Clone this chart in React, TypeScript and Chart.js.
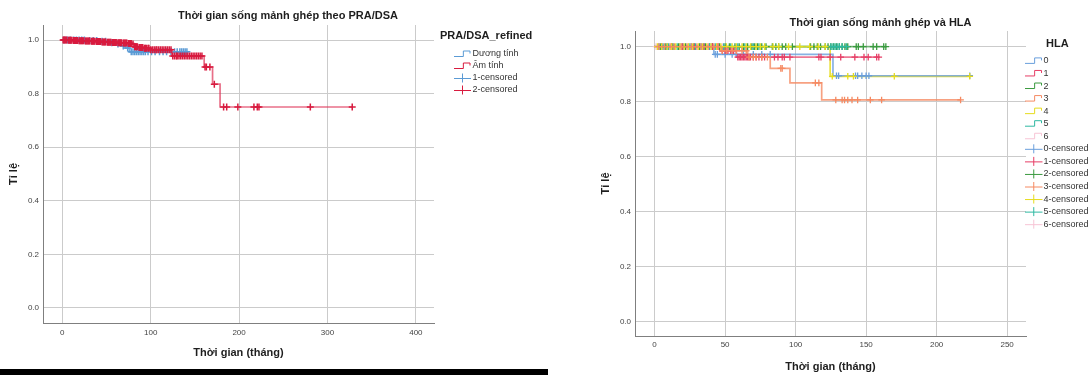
import React, { useEffect, useRef } from "react";
import { Chart, registerables } from "chart.js";

Chart.register(...registerables);

const FONT = '"Liberation Sans", Arial, sans-serif';

// ---------------- Left chart data ----------------
const leftTitle = "Thời gian sống mảnh ghép theo PRA/DSA";
const leftLegendTitle = "PRA/DSA_refined";
const leftGroupLabels = ["Dương tính", "Âm tính"];
const leftCensorLabels = ["1-censored", "2-censored"];
const leftXTicks = [0, 100, 200, 300, 400];
const yTicks = [0, 0.2, 0.4, 0.6, 0.8, 1.0];
const xAxisTitle = "Thời gian (tháng)";
const yAxisTitle = "Tỉ lệ";

// Dương tính (positive)
const posTimes = [0, 28, 42, 52, 60, 66, 71, 76];
const posSurv = [1, 0.998, 0.995, 0.99, 0.985, 0.978, 0.97, 0.956];
const posEnd = 141;
const posCensor = [2, 6, 9, 13, 16, 19, 22, 25, 31, 35, 39, 45, 49, 56, 63, 69, 74, 78, 80, 82, 84, 86, 88, 90, 92, 94, 97, 101, 105, 110, 114, 118, 123, 127, 130, 133, 135, 137, 139, 141];

// Âm tính (negative)
const negTimes = [0, 6, 12, 18, 25, 32, 38, 44, 50, 56, 62, 68, 74, 79, 81, 86, 92, 99, 124, 160.5, 170, 178.5];
const negSurv = [1, 0.999, 0.998, 0.997, 0.996, 0.995, 0.994, 0.993, 0.992, 0.991, 0.99, 0.989, 0.987, 0.985, 0.975, 0.972, 0.969, 0.964, 0.94, 0.899, 0.835, 0.75];
const negEnd = 328;
const negCensor = [1, 2, 3, 4, 5, 7, 8, 9, 10, 11, 13, 14, 15, 16, 17, 19, 20, 21, 22, 23, 24, 26, 27, 28, 29, 30, 31, 33, 34, 35, 36, 37, 39, 40, 41, 42, 43, 45, 46, 47, 48, 49, 51, 52, 53, 54, 55, 57, 58, 59, 60, 61, 63, 64, 65, 66, 67, 69, 70, 71, 72, 73, 75, 76, 77, 78, 80, 82, 83, 84, 85, 87, 88, 89, 90, 91, 93, 94, 95, 97, 98, 100, 102, 104, 106, 107, 109, 111, 113, 115, 117, 119, 121, 123, 125, 127, 129, 130, 132, 134, 136, 138, 140, 142, 144, 146, 148, 150, 152, 154, 156, 158, 161.5, 163, 167, 172, 182.5, 186, 198.6, 216.8, 220.6, 222.5, 280.6, 328];

// ---------------- Right chart data ----------------
const rightTitle = "Thời gian sống mảnh ghép và HLA";
const rightLegendTitle = "HLA";
const hlaLabels = ["0", "1", "2", "3", "4", "5", "6"];
const hlaCensorLabels = ["0-censored", "1-censored", "2-censored", "3-censored", "4-censored", "5-censored", "6-censored"];
const rightXTicks = [0, 50, 100, 150, 200, 250];

const g0Times = [0, 42, 126.5];
const g0Surv = [1, 0.972, 0.894];
const g0End = 223.5;
const g0Censor = [3, 9, 18, 26, 33, 39, 43, 44.5, 50, 55, 58, 63, 70, 76, 82, 129, 130.5, 142.5, 144, 147, 150, 152, 223.5];

const g1Times = [0, 47, 58];
const g1Surv = [1, 0.985, 0.962];
const g1End = 159;
const g1Censor = [5, 12, 20, 28, 35, 41, 45, 48, 50, 52, 54, 56, 59, 60, 61, 62, 63, 64, 65, 66, 67, 68, 70, 72, 74, 76, 78, 85, 87.5, 90.5, 92, 96, 116.5, 118, 124.5, 132, 142, 148.5, 151.5, 157.5, 159];

const g2Times = [0];
const g2Surv = [1];
const g2End = 164;
const g2Censor = [4, 8, 13, 17, 22, 28, 32, 36, 41, 46, 50, 53, 57, 60, 63, 66, 69, 71, 73, 76, 79, 83.5, 86, 88, 90.5, 93, 97.7, 110.6, 113, 115.4, 117.7, 121, 123, 125, 127, 129, 131, 133, 135, 137, 143, 144.5, 148, 155, 157.5, 162.5, 164];

const g3Times = [0, 47, 66, 82, 96, 118.5];
const g3Surv = [1, 0.985, 0.962, 0.921, 0.868, 0.806];
const g3End = 217;
const g3Censor = [3, 7, 11, 14, 19, 23, 26, 30, 33, 38, 42, 45, 48, 51, 55, 58, 62, 65, 67, 70, 72, 76, 80, 89.5, 90.5, 114, 116.5, 128.5, 133, 134.7, 137, 140, 144, 153, 161, 217];

const g4Times = [0, 124.5];
const g4Surv = [1, 0.892];
const g4End = 223.5;
const g4Censor = [2, 5, 9, 12, 15, 18, 21, 24, 27, 31, 34, 37, 40, 44, 47, 51, 55, 58, 62, 65, 68, 72, 75, 78, 84, 88, 95, 103, 110, 116, 121, 126, 137, 141, 170, 223.5];

const g5Times = [0];
const g5Surv = [1];
const g5End = 136;
const g5Censor = [6, 10, 16, 20, 25, 29, 35, 39, 43, 49, 54, 59, 64, 70, 74, 125, 126.5, 128, 129.5, 131, 133, 136];

const g6Times = [0];
const g6Surv = [1];
const g6End = 48;
const g6Censor = [1, 7.5, 13, 19, 24, 32, 40, 44, 48];

// ---------------- styles ----------------
const leftColors = { pos: "#5b9bd5", neg: "#d81b3f" };
const leftLineColors = { pos: "rgba(91,155,213,0.85)", neg: "rgba(222,50,85,0.7)" };
const hlaColors = ["#6a9fdc", "#e63e66", "#3a9a3f", "#f58a62", "#e6dc1e", "#2fb9a2", "#f7c4d5"];
const hlaLineColors = ["rgba(106,159,220,0.8)", "rgba(230,62,102,0.7)", "rgba(58,154,63,0.6)", "rgba(245,138,98,0.8)", "rgba(230,220,30,0.85)", "rgba(47,185,162,0.7)", "rgba(247,196,213,0.9)"];

type Group = { times: number[]; surv: number[]; end: number; censor: number[] };

function survAt(g: Group, t: number): number {
  let s = g.surv[0];
  for (let i = 0; i < g.times.length; i++) {
    if (g.times[i] <= t) s = g.surv[i];
  }
  return s;
}

function stepData(g: Group) {
  const pts = g.times.map((t, i) => ({ x: t, y: g.surv[i] }));
  pts.push({ x: g.end, y: g.surv[g.surv.length - 1] });
  return pts;
}

function censorData(g: Group) {
  return g.censor.map((t) => ({ x: t, y: survAt(g, t) }));
}

function lineDs(g: Group, color: string, label: string) {
  return {
    type: "line" as const,
    label,
    data: stepData(g),
    stepped: "before" as const,
    borderColor: color,
    borderWidth: 1.7,
    pointRadius: 0,
    pointHoverRadius: 0,
    fill: false,
    tension: 0,
  };
}

function censorDs(g: Group, color: string, label: string, r: number, bw: number) {
  return {
    type: "scatter" as const,
    label,
    data: censorData(g),
    pointStyle: "cross" as const,
    pointRadius: r,
    pointHoverRadius: r,
    pointBorderWidth: bw,
    borderColor: color,
    backgroundColor: color,
    showLine: false,
  };
}

type LegendItem = { label: string; color: string; kind: "step" | "cross" };
type OverlayCfg = {
  title: string;
  titleX: number;
  titleY: number;
  legendTitle: string;
  legendTitleX: number;
  legendTitleY: number;
  items: LegendItem[];
  iconX: number;
  iconW: number;
  textX: number;
  itemY0: number;
  itemDY: number;
  itemFont: number;
};

function overlayPlugin(cfg: OverlayCfg) {
  return {
    id: "overlay",
    afterDraw(chart: any) {
      const ctx: CanvasRenderingContext2D = chart.ctx;
      ctx.save();
      ctx.fillStyle = "#1e1e1e";
      ctx.textBaseline = "middle";
      ctx.textAlign = "center";
      ctx.font = `bold 11px ${FONT}`;
      ctx.fillText(cfg.title, cfg.titleX, cfg.titleY);
      ctx.textAlign = "left";
      ctx.font = `bold 11px ${FONT}`;
      ctx.fillText(cfg.legendTitle, cfg.legendTitleX, cfg.legendTitleY);
      ctx.font = `${cfg.itemFont}px ${FONT}`;
      cfg.items.forEach((it, i) => {
        const y = cfg.itemY0 + i * cfg.itemDY;
        const x0 = cfg.iconX;
        const w = cfg.iconW;
        ctx.strokeStyle = it.color;
        ctx.lineWidth = 1;
        ctx.beginPath();
        if (it.kind === "step") {
          ctx.moveTo(x0, y + 2.5);
          ctx.lineTo(x0 + w * 0.55, y + 2.5);
          ctx.lineTo(x0 + w * 0.55, y - 3);
          ctx.lineTo(x0 + w - 1, y - 3);
          ctx.lineTo(x0 + w - 1, y - 0.5);
        } else {
          ctx.moveTo(x0, y + 0.5);
          ctx.lineTo(x0 + w, y + 0.5);
          ctx.moveTo(x0 + w / 2, y - 4.5);
          ctx.lineTo(x0 + w / 2, y + 4.5);
        }
        ctx.stroke();
        ctx.fillStyle = "#333";
        ctx.fillText(it.label, cfg.textX, y);
      });
      ctx.restore();
    },
  };
}

function axisScales(opts: {
  xMin: number; xMax: number; yMin: number; yMax: number; xTicks: number[];
  yWidth: number; xHeight: number; xTitlePadBottom: number; yTitlePadTop: number; xTickPad: number;
}) {
  const gridColor = "#cbcbcb";
  const borderColor = "#7f7f7f";
  const tickFont = { family: FONT, size: 8 };
  const titleFont = { family: FONT, size: 11, weight: "bold" as const };
  return {
    x: {
      type: "linear" as const,
      min: opts.xMin,
      max: opts.xMax,
      afterBuildTicks: (s: any) => { s.ticks = opts.xTicks.map((v) => ({ value: v })); },
      afterFit: (s: any) => { s.height = opts.xHeight; },
      grid: { color: gridColor, lineWidth: 1, drawTicks: false },
      border: { display: true, color: borderColor, width: 1 },
      ticks: { font: tickFont, color: "#444", padding: opts.xTickPad, autoSkip: false, maxRotation: 0, callback: (v: any) => String(v) },
      title: { display: true, text: xAxisTitle, font: titleFont, color: "#1e1e1e", padding: { top: 0, bottom: opts.xTitlePadBottom } },
    },
    y: {
      type: "linear" as const,
      min: opts.yMin,
      max: opts.yMax,
      afterBuildTicks: (s: any) => { s.ticks = yTicks.map((v) => ({ value: v })); },
      afterFit: (s: any) => { s.width = opts.yWidth; },
      grid: { color: gridColor, lineWidth: 1, drawTicks: false },
      border: { display: true, color: borderColor, width: 1 },
      ticks: { font: tickFont, color: "#444", padding: 4, autoSkip: false, callback: (v: any) => Number(v).toFixed(1) },
      title: { display: true, text: yAxisTitle, font: titleFont, color: "#1e1e1e", padding: { top: opts.yTitlePadTop, bottom: 0 } },
    },
  };
}

function leftConfig(): any {
  const pos: Group = { times: posTimes, surv: posSurv, end: posEnd, censor: posCensor };
  const neg: Group = { times: negTimes, surv: negSurv, end: negEnd, censor: negCensor };
  return {
    type: "scatter",
    data: {
      datasets: [
        censorDs(neg, leftColors.neg, leftCensorLabels[1], 3.5, 1.5),
        lineDs(neg, leftLineColors.neg, leftGroupLabels[1]),
        censorDs(pos, leftColors.pos, leftCensorLabels[0], 3.5, 1.5),
        lineDs(pos, leftLineColors.pos, leftGroupLabels[0]),
      ],
    },
    options: {
      responsive: false,
      animation: false,
      devicePixelRatio: 1,
      layout: { padding: { left: 0, right: 114, top: 25, bottom: 0 } },
      plugins: { legend: { display: false }, tooltip: { enabled: false }, title: { display: false } },
      scales: axisScales({ xMin: -21.8, xMax: 420.5, yMin: -0.056, yMax: 1.056, xTicks: leftXTicks, yWidth: 43, xHeight: 46, xTitlePadBottom: 9.4, yTitlePadTop: 7.4, xTickPad: 5 }),
    },
    plugins: [
      overlayPlugin({
        title: leftTitle, titleX: 288, titleY: 15.5,
        legendTitle: leftLegendTitle, legendTitleX: 440, legendTitleY: 36,
        items: [
          { label: leftGroupLabels[0], color: leftColors.pos, kind: "step" },
          { label: leftGroupLabels[1], color: leftColors.neg, kind: "step" },
          { label: leftCensorLabels[0], color: leftColors.pos, kind: "cross" },
          { label: leftCensorLabels[1], color: leftColors.neg, kind: "cross" },
        ],
        iconX: 454, iconW: 17, textX: 472.5, itemY0: 54, itemDY: 12, itemFont: 9,
      }),
    ],
  };
}

function rightConfig(): any {
  const groups: Group[] = [
    { times: g0Times, surv: g0Surv, end: g0End, censor: g0Censor },
    { times: g1Times, surv: g1Surv, end: g1End, censor: g1Censor },
    { times: g2Times, surv: g2Surv, end: g2End, censor: g2Censor },
    { times: g3Times, surv: g3Surv, end: g3End, censor: g3Censor },
    { times: g4Times, surv: g4Surv, end: g4End, censor: g4Censor },
    { times: g5Times, surv: g5Surv, end: g5End, censor: g5Censor },
    { times: g6Times, surv: g6Surv, end: g6End, censor: g6Censor },
  ];
  const censorOrder = [3, 4, 1, 5, 2, 6, 0];
  const lineOrder = [3, 1, 0, 4, 2, 5, 6];
  const datasets = [
    ...censorOrder.map((i) => censorDs(groups[i], hlaColors[i], hlaCensorLabels[i], 3.3, 1.3)),
    ...lineOrder.map((i) => lineDs(groups[i], hlaLineColors[i], hlaLabels[i])),
  ];
  const items: LegendItem[] = [
    ...hlaLabels.map((l, i) => ({ label: l, color: hlaColors[i], kind: "step" as const })),
    ...hlaCensorLabels.map((l, i) => ({ label: l, color: hlaColors[i], kind: "cross" as const })),
  ];
  return {
    type: "scatter",
    data: { datasets },
    options: {
      responsive: false,
      animation: false,
      devicePixelRatio: 1,
      layout: { padding: { left: 0, right: 65, top: 31, bottom: 0 } },
      plugins: { legend: { display: false }, tooltip: { enabled: false }, title: { display: false } },
      scales: axisScales({ xMin: -13.9, xMax: 263.4, yMin: -0.0535, yMax: 1.057, xTicks: rightXTicks, yWidth: 87, xHeight: 39, xTitlePadBottom: 1.7, yTitlePadTop: 51.4, xTickPad: 4 }),
    },
    plugins: [
      overlayPlugin({
        title: rightTitle, titleX: 332.5, titleY: 23,
        legendTitle: rightLegendTitle, legendTitleX: 498, legendTitleY: 43.5,
        items,
        iconX: 477, iconW: 17.5, textX: 495.5, itemY0: 60.9, itemDY: 12.56, itemFont: 9,
      }),
    ],
  };
}

export default function App() {
  const leftRef = useRef<HTMLCanvasElement>(null);
  const rightRef = useRef<HTMLCanvasElement>(null);
  useEffect(() => {
    const c1 = new Chart(leftRef.current as HTMLCanvasElement, leftConfig());
    const c2 = new Chart(rightRef.current as HTMLCanvasElement, rightConfig());
    return () => {
      c1.destroy();
      c2.destroy();
    };
  }, []);
  return (
    <div style={{ position: "fixed", left: 0, top: 0, width: 1091, height: 375, background: "#fff", overflow: "hidden" }}>
      <canvas ref={leftRef} width={548} height={369} style={{ position: "absolute", left: 0, top: 0, width: 548, height: 369 }} />
      <div style={{ position: "absolute", left: 0, top: 369, width: 548, height: 6, background: "#000" }} />
      <canvas ref={rightRef} width={543} height={375} style={{ position: "absolute", left: 548, top: 0, width: 543, height: 375 }} />
    </div>
  );
}
